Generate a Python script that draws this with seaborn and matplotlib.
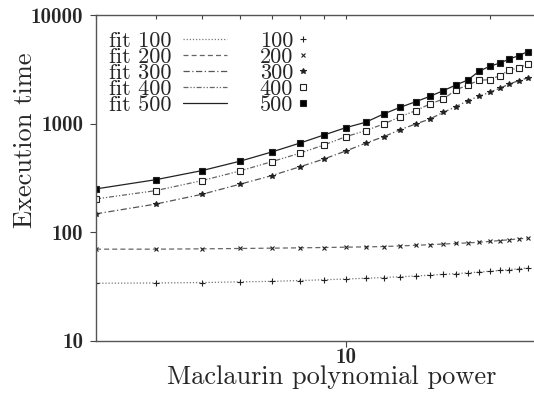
import matplotlib
matplotlib.use("Agg")
import matplotlib.pyplot as plt
from matplotlib.lines import Line2D
import seaborn as sns
import pandas as pd

# %% data
power = list(range(3, 25))
t100 = [34, 34.2, 34.5, 35, 35.4, 36, 36.6, 37.2, 37.8, 38.4, 39, 39.6,
        40.4, 41, 41.7, 42.4, 43.1, 43.8, 44.6, 45.4, 46.2, 47]
t200 = [70, 70, 70.5, 71, 71.5, 72, 72.5, 73, 73.5, 74, 75, 76,
        77, 78, 79, 80, 81, 82.5, 84, 85.5, 87, 88.5]
t300 = [148, 182, 224, 277, 333, 400, 473, 561, 661, 759, 881, 994,
        1104, 1273, 1433, 1627, 1786, 1945, 2118, 2319, 2487, 2630]
t400 = [203, 242, 299, 367, 447, 534, 637, 759, 863, 994, 1159, 1318,
        1517, 1687, 2044, 2270, 2506, 2541, 2768, 3119, 3252, 3539]
t500 = [251, 305, 370, 451, 549, 661, 787, 919, 1030, 1228, 1416, 1592,
        1786, 2014, 2270, 2523, 3035, 3374, 3610, 3936, 4224, 4590]
sizes = ["100", "200", "300", "400", "500"]
ytick_vals = [10, 100, 1000, 10000]
ytick_labels = ["10", "100", "1000", "10000"]

df = pd.DataFrame({"power": power, "100": t100, "200": t200, "300": t300,
                   "400": t400, "500": t500})

# %% styles
sns.set_style("ticks")
plt.rcParams["font.family"] = ["cmr10", "DejaVu Serif"]
plt.rcParams["axes.formatter.use_mathtext"] = True

fit_styles = {"100": (0, (1, 1.5)), "200": (0, (4, 2.5)), "300": (0, (5, 2, 1, 2)),
              "400": (0, (4, 1.5, 1, 1.5, 1, 1.5)), "500": "-"}
fit_colors = {"100": "#777777", "200": "#666666", "300": "#555555",
              "400": "#666666", "500": "#222222"}
markers = {"100": "+", "200": "x", "300": "*", "400": "s", "500": "s"}
mfc = {"100": "#333333", "200": "#555555", "300": "#222222", "400": "white", "500": "black"}
msize = {"100": 4, "200": 3.5, "300": 4, "400": 3.8, "500": 3.8}

fig = plt.figure(figsize=(5.34, 3.94), dpi=100)
ax = fig.add_axes([96 / 534, 53 / 394, 440 / 534, 326 / 394])

for s in sizes:
    sns.lineplot(data=df, x="power", y=s, ax=ax, color=fit_colors[s],
                 linestyle=fit_styles[s], linewidth=0.9)
    sns.lineplot(data=df, x="power", y=s, ax=ax, linestyle="", marker=markers[s],
                 markersize=msize[s], markerfacecolor=mfc[s], color="#222222",
                 markeredgecolor="#222222", markeredgewidth=0.8)

ax.set_xscale("log")
ax.set_yscale("log")
ax.set_xlim(3, 25)
ax.set_ylim(10, 10000)

ax.set_yticks(ytick_vals)
ax.set_yticklabels(ytick_labels, fontfamily="cmb10", fontsize=15)
ax.yaxis.set_minor_locator(matplotlib.ticker.NullLocator())
ax.set_xticks([10])
ax.set_xticklabels(["10"], fontfamily="cmb10", fontsize=15)
ax.xaxis.set_minor_locator(matplotlib.ticker.NullLocator())
ax.tick_params(axis="both", direction="out", length=4.3, width=0.8, color="#444444")
ax.tick_params(axis="y", pad=5)
ax.tick_params(axis="x", pad=1)

top = ax.secondary_xaxis("top")
top.set_xticks([3, 4, 5, 6, 7, 8, 9, 10, 20])
top.set_xticklabels([])
top.tick_params(direction="in", length=3, width=0.8, color="#444444")
top.xaxis.set_minor_locator(matplotlib.ticker.NullLocator())

for sp in ax.spines.values():
    sp.set_color("#555555")
    sp.set_linewidth(1.0)
top.spines["top"].set_visible(False)

ax.set_xlabel("Maclaurin polynomial power", fontsize=19)
ax.xaxis.set_label_coords(0.536, -0.075)
ax.set_ylabel("Execution time", fontsize=19)
ax.yaxis.set_label_coords(-0.135, 0.615)

# %% legends: fit lines column, then data points column
fit_handles = [Line2D([], [], color=fit_colors[s], linestyle=fit_styles[s], linewidth=0.9)
               for s in sizes]
leg1 = ax.legend(fit_handles, ["fit " + s for s in sizes], loc="upper left",
                 bbox_to_anchor=(0.0, 0.99), frameon=False, markerfirst=False,
                 fontsize=16, labelspacing=-0.16, handlelength=2.0, handletextpad=0.5,
                 borderaxespad=0.2)
ax.add_artist(leg1)
pt_handles = [Line2D([], [], linestyle="", marker=markers[s], markersize=msize[s],
                     markerfacecolor=mfc[s], color="#222222", markeredgewidth=0.8)
              for s in sizes]
ax.legend(pt_handles, sizes, loc="upper left", bbox_to_anchor=(0.342, 0.99),
          frameon=False, markerfirst=False, fontsize=16, labelspacing=-0.16,
          handlelength=0.3, handletextpad=0.3, borderaxespad=0.2)

fig.savefig("out.png", dpi=100)
